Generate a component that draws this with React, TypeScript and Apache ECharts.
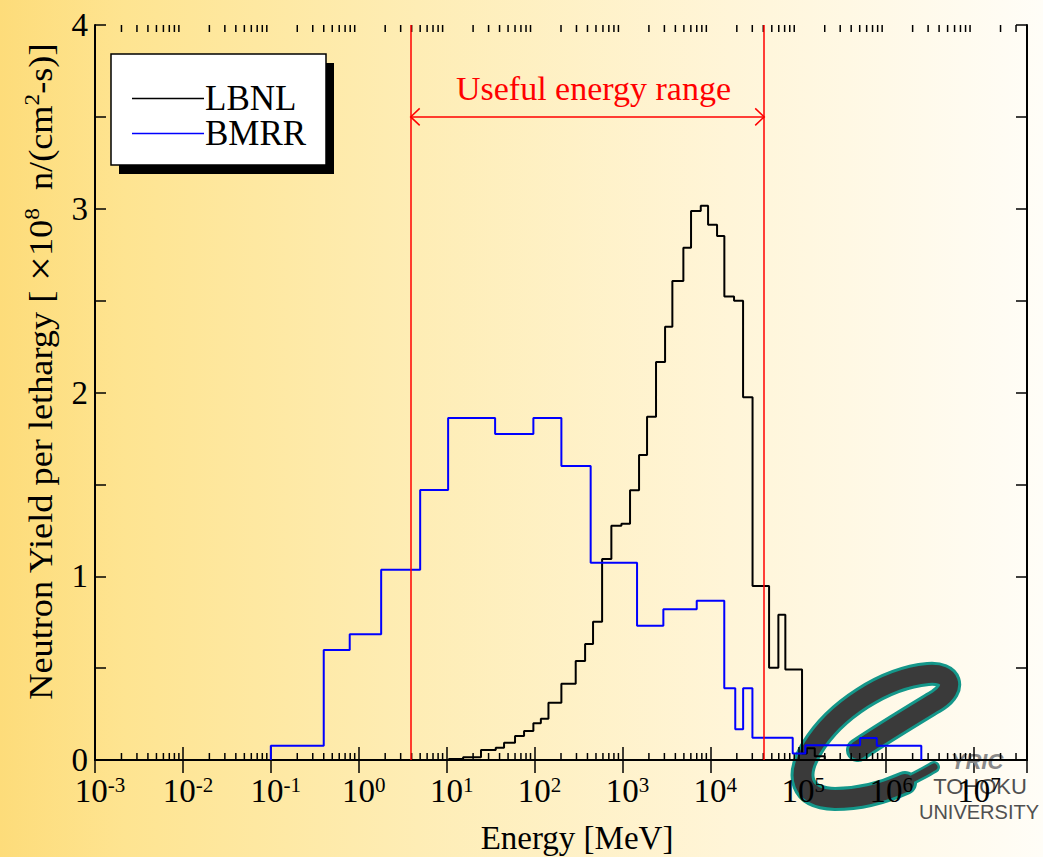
import React, { useEffect, useRef } from 'react';
import * as echarts from 'echarts';

// ---------- data ----------
// BMRR histogram: bin edges (MeV) and values per bin
const bmrrEdges = [0.1, 0.4, 0.79, 1.8, 5.0, 10.4, 35.6, 97, 202, 435, 1466, 2920, 7000, 14400, 19200, 23600, 30100, 86500, 120500, 505000, 782000, 2510000];
const bmrrValues = [0.078, 0.599, 0.684, 1.036, 1.469, 1.861, 1.774, 1.861, 1.6, 1.074, 0.731, 0.82, 0.866, 0.39, 0.167, 0.39, 0.121, 0.036, 0.08, 0.12, 0.078];

// LBNL histogram
const lbnlEdges = [10.6, 15.4, 24.6, 36.2, 45, 60, 76, 97, 118, 144, 202, 294, 376, 463, 587, 748, 973, 1220, 1545, 1905, 2410, 3054, 3697, 4932, 6030, 7780, 9420, 11920, 14430, 18600, 23560, 30200, 46560, 59400, 71300, 110400, 125000, 154000, 200000];
const lbnlValues = [0.005, 0.015, 0.054, 0.067, 0.094, 0.13, 0.158, 0.2, 0.225, 0.312, 0.415, 0.539, 0.631, 0.753, 1.094, 1.275, 1.286, 1.468, 1.66, 1.868, 2.166, 2.358, 2.607, 2.788, 2.988, 3.017, 2.913, 2.852, 2.522, 2.5, 1.974, 0.947, 0.502, 0.791, 0.492, 0.035, 0.064, 0.02];

// useful energy range markers
const usefulRange = [3.9, 41000];
const usefulArrowLevel = 3.5;
const usefulLabel = 'Useful energy range';

// axes
const xMin = 1e-3;
const xMax = 4e7;
const yMin = 0;
const yMax = 4;
const yInterval = 0.5;
const minorTickValues: number[] = [];
for (let n = -3; n <= 7; n++) {
  for (let k = 2; k <= 9; k++) {
    const v = k * Math.pow(10, n);
    if (v < xMax) minorTickValues.push(v);
  }
}

const SERIF = '"Liberation Serif", "Times New Roman", serif';
const SANS = '"Liberation Sans", Arial, sans-serif';

function toSteps(edges: number[], values: number[]) {
  const pts: number[][] = [[edges[0], 0]];
  values.forEach((v, i) => pts.push([edges[i], v]));
  pts.push([edges[edges.length - 1], 0]);
  return pts;
}

// logo paths (the stylised "e" and its thin tail)
const LOGO_D =
  'M 858 750 C 885 732, 915 714, 938 700 C 956 688, 952 672, 928 674 C 885 678, 835 710, 812 748 C 795 776, 800 798, 835 799 C 860 799, 885 792, 905 783';
const LOGO_TAIL_D = 'M 900 785 C 912 779, 924 773, 934 767';
let registered = false;
function registerLogo() {
  if (registered) return;
  registered = true;
  echarts.graphic.registerShape('logoE', echarts.graphic.extendPath(LOGO_D, {}) as any);
  echarts.graphic.registerShape('logoTail', echarts.graphic.extendPath(LOGO_TAIL_D, {}) as any);
}

export default function App() {
  const ref = useRef<HTMLDivElement>(null);
  useEffect(() => {
    if (!ref.current) return;
    registerLogo();
    const chart = echarts.init(ref.current, undefined, { renderer: 'svg' });

    const xLabelFormatter = (v: number) => {
      const l = Math.log10(v);
      const e = Math.round(l);
      if (Math.abs(l - e) > 1e-6) return '';
      return `{b|10}{s|${e}}`;
    };

    const option: any = {
      animation: false,
      backgroundColor: new echarts.graphic.LinearGradient(0, 0, 1, 0, [
        { offset: 0, color: '#fddc7a' },
        { offset: 0.12, color: '#fee491' },
        { offset: 0.4, color: '#feedb5' },
        { offset: 0.7, color: '#fff5d8' },
        { offset: 1, color: '#fffdf7' },
      ]),
      grid: { left: 95, top: 25, right: 16, bottom: 97, containLabel: false },
      xAxis: [
        {
          type: 'log',
          logBase: 10,
          min: xMin,
          max: xMax,
          interval: 1,
          z: 2,
          axisLine: { show: true, lineStyle: { color: '#000', width: 2 } },
          axisTick: { show: true, inside: true, length: 13, lineStyle: { color: '#000', width: 1.5 } },
          splitLine: { show: false },
          minorTick: { show: false },
          axisLabel: {
            margin: 14,
            formatter: xLabelFormatter,
            rich: {
              b: { fontSize: 33, fontFamily: SERIF, color: '#000', padding: [0, 0, 0, 10] },
              s: { fontSize: 21, fontFamily: SERIF, color: '#000', verticalAlign: 'top', padding: [0, 0, 4, 0] },
            },
          },
        },
        {
          type: 'log',
          logBase: 10,
          position: 'top',
          min: xMin,
          max: xMax,
          interval: 1,
          axisLine: { show: true, lineStyle: { color: '#000', width: 2 } },
          axisTick: { show: true, inside: true, length: 13, lineStyle: { color: '#000', width: 1.5 } },
          axisLabel: { show: false },
          splitLine: { show: false },
        },
      ],
      yAxis: [
        {
          type: 'value',
          min: yMin,
          max: yMax,
          interval: yInterval,
          axisLine: { show: true, lineStyle: { color: '#000', width: 2 } },
          axisTick: { show: true, inside: true, length: 11, lineStyle: { color: '#000', width: 1.5 } },
          splitLine: { show: false },
          axisLabel: {
            margin: 7,
            fontSize: 33,
            fontFamily: SERIF,
            color: '#000',
            formatter: (v: number) => (Number.isInteger(v) ? String(v) : ''),
          },
        },
        {
          type: 'value',
          position: 'right',
          min: yMin,
          max: yMax,
          interval: yInterval,
          z: 2,
          axisLine: { show: true, lineStyle: { color: '#000', width: 2 } },
          axisTick: { show: true, inside: true, length: 11, lineStyle: { color: '#000', width: 1.5 } },
          splitLine: { show: false },
          axisLabel: { show: false },
        },
      ],
      legend: {
        orient: 'vertical',
        left: 127,
        top: 76,
        icon: 'rect',
        itemWidth: 72,
        itemHeight: 1.6,
        itemGap: 0,
        selectedMode: false,
        z: 10,
        data: ['LBNL', 'BMRR'],
        textStyle: { fontSize: 35, lineHeight: 35, fontFamily: SERIF, color: '#000', padding: [0, 0, 0, -4] },
      },
      graphic: [
        // logo
        { type: 'logoE', x: 0, y: 0, z: 1, silent: true, style: { fill: 'none', stroke: '#14978a', lineWidth: 24, lineCap: 'round' } },
        { type: 'logoTail', x: 0, y: 0, z: 1, silent: true, style: { fill: 'none', stroke: '#14978a', lineWidth: 12, lineCap: 'round' } },
        { type: 'logoE', x: 0, y: 0, z: 1, silent: true, style: { fill: 'none', stroke: '#3a3a3a', lineWidth: 18, lineCap: 'round' } },
        { type: 'logoTail', x: 0, y: 0, z: 1, silent: true, style: { fill: 'none', stroke: '#3a3a3a', lineWidth: 7, lineCap: 'round' } },
        { type: 'text', x: 977, y: 761, z: 1, silent: true, style: { text: 'YRIC', font: 'italic bold 22px ' + SANS, fill: '#8a8a8a', align: 'center', verticalAlign: 'middle' } },
        { type: 'text', x: 980, y: 786, z: 1, silent: true, style: { text: 'TOHOKU', font: '22px ' + SANS, fill: '#505050', align: 'center', verticalAlign: 'middle' } },
        { type: 'text', x: 979, y: 812, z: 1, silent: true, style: { text: 'UNIVERSITY', font: '20px ' + SANS, fill: '#505050', align: 'center', verticalAlign: 'middle' } },
        // legend box
        { type: 'rect', z: 5, shape: { x: 119, y: 63, width: 215, height: 111 }, style: { fill: '#000' } },
        { type: 'rect', z: 6, shape: { x: 111, y: 54, width: 215, height: 111 }, style: { fill: '#fff', stroke: '#000', lineWidth: 1.5 } },
        // axis titles
        {
          type: 'text',
          x: 577,
          y: 838,
          style: { text: 'Energy [MeV]', font: '33px ' + SERIF, fill: '#000', align: 'center', verticalAlign: 'middle' },
        },
        {
          type: 'text',
          x: 41,
          y: 372,
          rotation: Math.PI / 2,
          scaleX: 1.1,
          style: {
            text: '{n|Neutron Yield per lethargy [ }{x|×}{n|10}{s|8}{n|  n/(cm}{s|2}{n|-s)]}',
            align: 'center',
            verticalAlign: 'middle',
            rich: {
              n: { fontSize: 33, fontFamily: SERIF, fill: '#000' },
              x: { fontSize: 40, fontFamily: SERIF, fill: '#000' },
              s: { fontSize: 21, fontFamily: SERIF, fill: '#000', verticalAlign: 'top' },
            },
          },
        },
      ],
      series: [
        {
          type: 'custom',
          name: 'minorTicks',
          silent: true,
          data: minorTickValues.map((v) => [v, 0]),
          encode: { x: 0, y: 1 },
          renderItem: (_p: any, api: any) => {
            const v = api.value(0);
            const b = api.coord([v, yMin]);
            const t = api.coord([v, yMax]);
            return {
              type: 'group',
              children: [
                { type: 'line', shape: { x1: b[0], y1: b[1], x2: b[0], y2: b[1] - 7 }, style: { stroke: '#000', lineWidth: 1.5 } },
                { type: 'line', shape: { x1: t[0], y1: t[1], x2: t[0], y2: t[1] + 7 }, style: { stroke: '#000', lineWidth: 1.5 } },
              ],
            };
          },
        },
        {
          type: 'line',
          name: 'LBNL',
          step: 'end',
          symbol: 'none',
          z: 3,
          data: toSteps(lbnlEdges, lbnlValues),
          lineStyle: { color: '#000', width: 2 },
          itemStyle: { color: '#000' },
        },
        {
          type: 'line',
          name: 'BMRR',
          step: 'end',
          symbol: 'none',
          z: 4,
          data: toSteps(bmrrEdges, bmrrValues),
          lineStyle: { color: '#0000ff', width: 2 },
          itemStyle: { color: '#0000ff' },
          markLine: {
            silent: true,
            symbol: ['none', 'none'],
            label: { show: false },
            lineStyle: { color: '#ff0000', width: 1.5, type: 'solid' },
            data: usefulRange.map((v) => ({ xAxis: v })),
          },
        },
        {
          type: 'custom',
          name: 'useful',
          silent: true,
          z: 5,
          data: [[usefulRange[0], usefulRange[1], usefulArrowLevel]],
          encode: { x: [0, 1], y: 2 },
          renderItem: (_p: any, api: any) => {
            const a = api.coord([api.value(0), api.value(2)]);
            const b = api.coord([api.value(1), api.value(2)]);
            const w = 9;
            const h = 8.5;
            const st = { stroke: '#ff0000', lineWidth: 1.5, fill: 'none' };
            return {
              type: 'group',
              children: [
                { type: 'line', shape: { x1: a[0], y1: a[1], x2: b[0], y2: b[1] }, style: st },
                { type: 'polyline', shape: { points: [[a[0] + w, a[1] - h], [a[0], a[1]], [a[0] + w, a[1] + h]] }, style: st },
                { type: 'polyline', shape: { points: [[b[0] - w, b[1] - h], [b[0], b[1]], [b[0] - w, b[1] + h]] }, style: st },
                {
                  type: 'text',
                  x: (a[0] + b[0]) / 2 + 6,
                  y: a[1] - 28,
                  style: { text: usefulLabel, font: '34px ' + SERIF, fill: '#ff0000', align: 'center', verticalAlign: 'middle' },
                },
              ],
            };
          },
        },
      ],
    };
    chart.setOption(option);
    return () => chart.dispose();
  }, []);
  return <div ref={ref} style={{ position: 'absolute', left: 0, top: 0, width: 1043, height: 857 }} />;
}
